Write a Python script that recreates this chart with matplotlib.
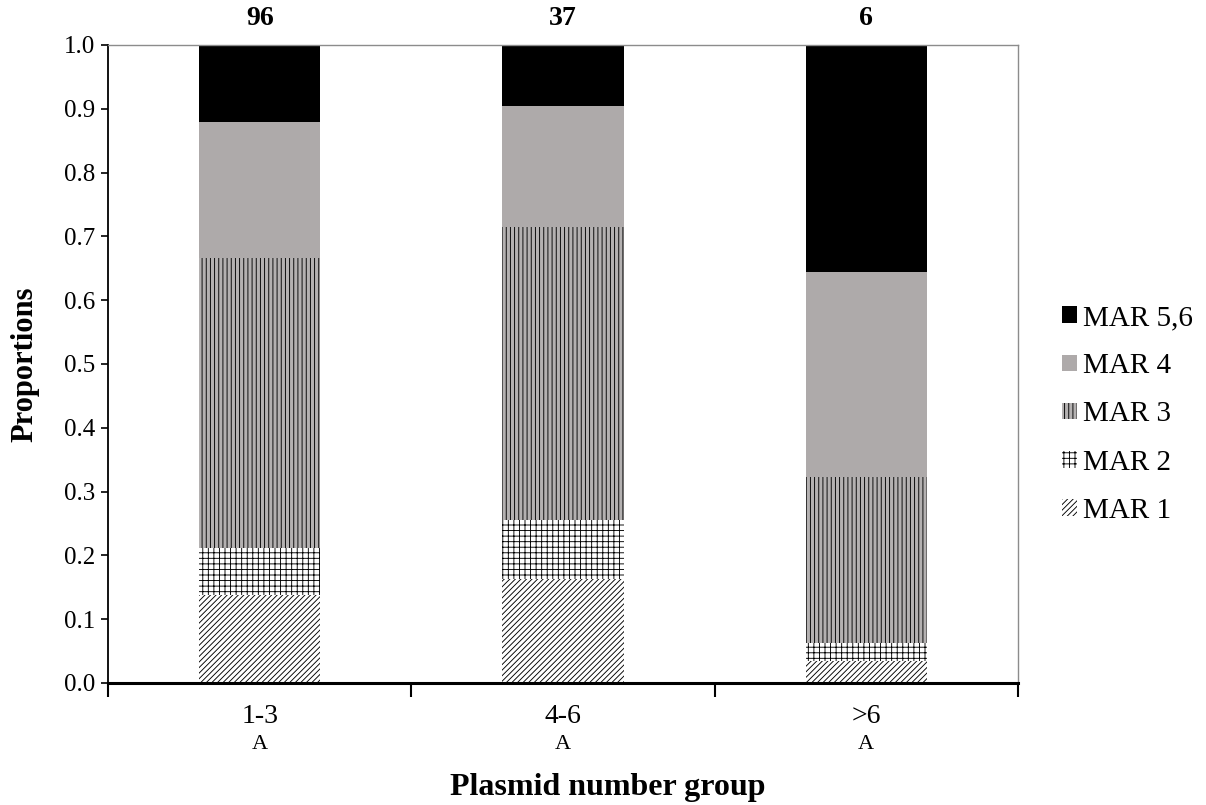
import matplotlib
matplotlib.use("Agg")
import matplotlib.pyplot as plt
from matplotlib.patches import Patch
from matplotlib.transforms import blended_transform_factory
import numpy as np

plt.rcParams["font.family"] = ["Liberation Serif", "DejaVu Serif"]
plt.rcParams["hatch.linewidth"] = 0.65

# Plasmid number groups and sample sizes
groups = ["1-3", "4-6", ">6"]
group_letters = ["A", "A", "A"]
sample_sizes = [96, 37, 6]

# Proportion of isolates per MAR class within each group
mar_labels = ["MAR 1", "MAR 2", "MAR 3", "MAR 4", "MAR 5,6"]
mar1 = [0.138, 0.163, 0.035]
mar2 = [0.074, 0.092, 0.027]
mar3 = [0.454, 0.459, 0.261]
mar4 = [0.214, 0.190, 0.321]
mar56 = [0.120, 0.096, 0.356]

series = [mar1, mar2, mar3, mar4, mar56]
faces = ["white", "white", "#b4b1b1", "#aeaaaa", "black"]
hatches = ["//////", "+++", "||||", None, None]

fig = plt.figure(figsize=(12.06, 8.05), dpi=100)
ax = fig.add_axes([0.0896, 0.1516, 0.7544, 0.7925])

x = np.arange(len(groups))
bottom = np.zeros(len(groups))
handles = []
for vals, fc, h, lab in zip(series, faces, hatches, mar_labels):
    vals = np.asarray(vals)
    ax.bar(x, vals, width=0.40, bottom=bottom, color=fc, edgecolor="black",
           linewidth=0, hatch=h, zorder=2)
    bottom += vals
    handles.append(Patch(facecolor=fc, edgecolor="black", linewidth=0,
                         hatch=h, label=lab))

ax.set_xlim(-0.5, len(groups) - 0.5)
ax.set_ylim(0, 1.0)

# y axis
ax.set_yticks(np.arange(0, 1.01, 0.1))
ax.set_yticklabels([f"{v:.1f}" for v in np.arange(0, 1.01, 0.1)], fontsize=18)
ax.tick_params(axis="y", direction="out", length=5, width=1.2, pad=4)
ax.set_ylabel("Proportions", fontsize=22, fontweight="bold", labelpad=18)

# x axis: tick marks at group boundaries, labels at group centres
ax.set_xticks(np.arange(-0.5, len(groups), 1.0))
ax.set_xticklabels([])
ax.set_xticks(x, minor=True)
ax.set_xticklabels(groups, minor=True, fontsize=20)
ax.tick_params(axis="x", which="major", direction="out", length=10, width=1.5)
ax.tick_params(axis="x", which="minor", length=0, pad=15)

trans = blended_transform_factory(ax.transData, ax.transAxes)
for xi, letter in zip(x, group_letters):
    ax.text(xi, -0.097, letter, transform=trans, ha="center", va="center",
            fontsize=16)
for xi, n in zip(x, sample_sizes):
    ax.text(xi, 1.042, str(n), transform=trans, ha="center", va="center",
            fontsize=20, fontweight="bold")

fig.text(0.504, 0.022, "Plasmid number group", ha="center", va="center",
         fontsize=23, fontweight="bold")

for side in ["left", "bottom"]:
    ax.spines[side].set_color("black")
ax.spines["left"].set_linewidth(1.3)
ax.spines["bottom"].set_linewidth(2.2)
for side in ["top", "right"]:
    ax.spines[side].set_color("#8c8c8c")
    ax.spines[side].set_linewidth(1.0)

leg = ax.legend(handles[::-1], mar_labels[::-1], loc="center left",
                bbox_to_anchor=(1.036, 0.421), frameon=False, fontsize=21,
                handlelength=0.5, handleheight=0.5, handletextpad=0.2,
                labelspacing=0.76, borderaxespad=0.0)

fig.savefig("out.png", dpi=100)
